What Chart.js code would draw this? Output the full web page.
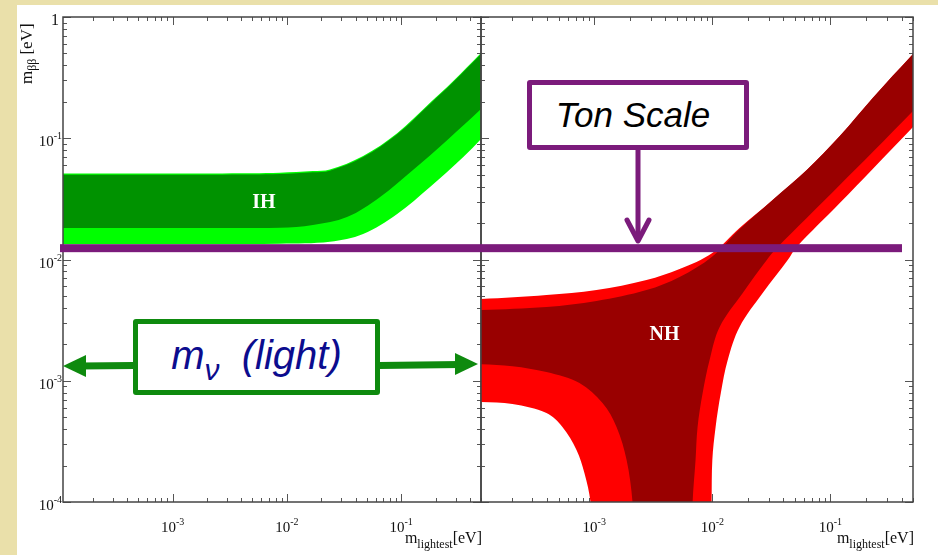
<!DOCTYPE html>
<html>
<head>
<meta charset="utf-8">
<script src="https://cdn.jsdelivr.net/npm/chart.js"></script>
<style>
html,body{margin:0;padding:0;background:#fff;}
#wrap{position:relative;width:938px;height:555px;overflow:hidden;background:#fff;}
.beigeL{position:absolute;left:0;top:0;width:17px;height:555px;background:#eae0aa;}
.beigeT{position:absolute;left:0;top:0;width:938px;height:5px;background:#eae0aa;}
canvas{position:absolute;left:0;top:0;}
svg{position:absolute;left:0;top:0;}
.box{position:absolute;box-sizing:border-box;background:#fff;display:flex;align-items:center;justify-content:center;font-family:"Liberation Sans",Arial,sans-serif;font-style:italic;white-space:nowrap;border-radius:3px;}
#ton{left:527px;top:80px;width:222px;height:70px;border:5px solid #7b1b7b;font-size:35px;color:#000;padding-right:10px;}
#mnu{left:133px;top:319px;width:247px;height:76px;border:5px solid #0e8a0e;font-size:40px;color:#0c0c8e;padding-bottom:4px;}
#mnu sub{font-size:0.75em;vertical-align:-0.35em;line-height:0;}
</style>
</head>
<body>
<div id="wrap">
  <div class="beigeL"></div>
  <div class="beigeT"></div>
  <canvas id="cL" width="938" height="555"></canvas>
  <canvas id="cR" width="938" height="555"></canvas>
  <svg width="938" height="555">
    <line x1="638" y1="150" x2="638" y2="239" stroke="#7b1b7b" stroke-width="5"/>
    <polyline points="627,220 638,241 649,220" fill="none" stroke="#7b1b7b" stroke-width="5" stroke-linecap="round" stroke-linejoin="round"/>
    <line x1="80" y1="366" x2="134" y2="365.5" stroke="#0e8a0e" stroke-width="7"/>
    <polygon points="63,366 86,355 86,377" fill="#0e8a0e"/>
    <line x1="379" y1="365.5" x2="460" y2="364.5" stroke="#0e8a0e" stroke-width="7"/>
    <polygon points="478,364 455,353 455,375" fill="#0e8a0e"/>
  </svg>
  <div id="ton" class="box"><span>Ton Scale</span></div>
  <div id="mnu" class="box"><span>m<sub>ν</sub>&nbsp;&nbsp;(light)</span></div>
</div>
<script>
// ---------- axis ranges and tick labels ----------
const X_MIN = 1.1e-4, X_MAX = 0.5;
const Y_MIN = 1e-4, Y_MAX = 1;
const X_TICK_EXPONENTS = [-3, -2, -1];
const Y_TICK_EXPONENTS = [0, -1, -2, -3, -4];
const TON_SCALE = 0.0124;

// ---------- IH band (inverted hierarchy) ----------
const IH_OUTER_TOP_X = [9e-5, 1.1e-4, 1e-3, 5e-3, 8.7e-3, 0.0169, 0.0238, 0.0465, 0.0923, 0.179, 0.286, 0.5, 0.62];
const IH_OUTER_TOP_Y = [0.0512, 0.0512, 0.0512, 0.0514, 0.0519, 0.0536, 0.0552, 0.0714, 0.110, 0.196, 0.297, 0.505, 0.625];
const IH_OUTER_BOT_X = [9e-5, 1.1e-4, 1e-3, 8.7e-3, 0.0238, 0.0465, 0.0923, 0.179, 0.35, 0.5, 0.62];
const IH_OUTER_BOT_Y = [0.0134, 0.0134, 0.0134, 0.0135, 0.0140, 0.0162, 0.0237, 0.0396, 0.070, 0.0986, 0.122];
const IH_INNER_TOP_X = [9e-5, 1.1e-4, 1e-3, 5e-3, 8.7e-3, 0.0169, 0.0238, 0.0465, 0.0923, 0.179, 0.286, 0.5, 0.62];
const IH_INNER_TOP_Y = [0.0500, 0.0500, 0.0500, 0.0502, 0.0507, 0.0524, 0.0540, 0.070, 0.108, 0.192, 0.291, 0.495, 0.615];
const IH_INNER_BOT_X = [9e-5, 1.1e-4, 1e-3, 8.7e-3, 0.0169, 0.0336, 0.0655, 0.127, 0.254, 0.5, 0.62];
const IH_INNER_BOT_Y = [0.0182, 0.0182, 0.0182, 0.0183, 0.0193, 0.0224, 0.0328, 0.0547, 0.0968, 0.174, 0.215];

// ---------- NH band (normal hierarchy) ----------
const NH_OUTER_TOP_X = [9e-5, 1.1e-4, 3.94e-4, 1.045e-3, 2.77e-3, 5.28e-3, 1.0e-2, 1.70e-2, 3.24e-2, 6.3e-2, 0.12, 0.228, 0.5, 0.62];
const NH_OUTER_TOP_Y = [0.00470, 0.00472, 0.00510, 0.00560, 0.00678, 0.00835, 0.01132, 0.0182, 0.0310, 0.0547, 0.1044, 0.215, 0.495, 0.615];
const NH_OUTER_BOT_X = [9e-5, 1.1e-4, 2.03e-4, 3.94e-4, 5.38e-4, 7.08e-4, 8.27e-4, 9.3e-4, 9.8e-4, 9.7e-3, 9.86e-3, 1.0e-2, 1.066e-2, 1.18e-2, 1.35e-2, 1.70e-2, 2.67e-2, 4.35e-2, 5.18e-2, 0.12, 0.228, 0.5, 0.62];
const NH_OUTER_BOT_Y = [0.000670, 0.000668, 0.000643, 0.000542, 0.000416, 0.000269, 0.000173, 0.0001, 0.00004, 0.00004, 0.0001, 0.000222, 0.000416, 0.000792, 0.00148, 0.00278, 0.0053, 0.00991, 0.01268, 0.0292, 0.0558, 0.124, 0.154];
const NH_INNER_TOP_X = [9e-5, 1.1e-4, 3.94e-4, 1.045e-3, 2.77e-3, 5.28e-3, 1.0e-2, 1.70e-2, 3.24e-2, 6.3e-2, 0.12, 0.228, 0.5, 0.62];
const NH_INNER_TOP_Y = [0.00382, 0.00383, 0.00406, 0.00455, 0.00560, 0.00718, 0.0106, 0.0178, 0.0310, 0.0547, 0.1044, 0.215, 0.495, 0.615];
const NH_INNER_BOT_X = [9e-5, 1.1e-4, 2.03e-4, 3.94e-4, 7.5e-4, 1.175e-3, 1.545e-3, 1.88e-3, 2.11e-3, 2.2e-3, 6.7e-3, 6.81e-3, 7.21e-3, 7.5e-3, 8.28e-3, 9.48e-3, 1.153e-2, 1.81e-2, 2.89e-2, 3.51e-2, 6.3e-2, 0.12, 0.228, 0.5, 0.62];
const NH_INNER_BOT_Y = [0.00137, 0.00137, 0.00132, 0.00118, 0.000958, 0.000655, 0.000416, 0.000222, 0.0001, 0.00004, 0.00004, 0.0001, 0.000222, 0.000416, 0.000792, 0.00148, 0.00278, 0.0053, 0.00991, 0.01244, 0.0220, 0.0412, 0.077, 0.168, 0.208];

// label anchors (data coordinates)
const IH_LABEL = {x: 6.3e-3, y: 0.0292, text: 'IH'};
const NH_LABEL = {x: 3.94e-3, y: 0.00238, text: 'NH'};

function polygon(topX, topY, botX, botY) {
  const pts = topX.map((x, i) => ({x: x, y: topY[i]}));
  for (let i = botX.length - 1; i >= 0; i--) pts.push({x: botX[i], y: botY[i]});
  pts.push({x: topX[0], y: topY[0]});
  return pts;
}

function band(pts, color, order) {
  return {data: pts, backgroundColor: color, borderColor: color, borderWidth: 0,
          fill: 'shape', order: order, pointRadius: 0, tension: 0.35};
}

const SERIF = '"Liberation Serif", "Times New Roman", serif';

function drawPow(ctx, exp, x, y, align) {
  ctx.fillStyle = '#111';
  ctx.textBaseline = 'alphabetic';
  ctx.textAlign = 'left';
  if (exp === 0) {
    ctx.font = '16px ' + SERIF;
    const w = ctx.measureText('1').width;
    ctx.fillText('1', align === 'right' ? x - w : x - w / 2, y);
    return;
  }
  const sup = String(exp);
  ctx.font = '15px ' + SERIF;
  const w1 = ctx.measureText('10').width;
  ctx.font = '10px ' + SERIF;
  const w2 = ctx.measureText(sup).width;
  const total = w1 + w2;
  const x0 = align === 'right' ? x - total : x - total / 2;
  ctx.font = '15px ' + SERIF;
  ctx.fillText('10', x0, y);
  ctx.font = '10px ' + SERIF;
  ctx.fillText(sup, x0 + w1, y - 7);
}

function drawXTitle(ctx, right, baseline) {
  ctx.fillStyle = '#111';
  ctx.textAlign = 'left';
  ctx.textBaseline = 'alphabetic';
  ctx.font = '16px ' + SERIF; const wm = ctx.measureText('m').width;
  ctx.font = '12px ' + SERIF; const ws = ctx.measureText('lightest').width;
  ctx.font = '16px ' + SERIF; const we = ctx.measureText('[eV]').width;
  let x = right - (wm + ws + we);
  ctx.font = '16px ' + SERIF; ctx.fillText('m', x, baseline); x += wm;
  ctx.font = '12px ' + SERIF; ctx.fillText('lightest', x, baseline + 5); x += ws;
  ctx.font = '16px ' + SERIF; ctx.fillText('[eV]', x, baseline);
}

function makePlugin(cfg) {
  return {
    id: 'frame_' + cfg.name,
    beforeDatasetsDraw(chart) {
      const {ctx, chartArea: a, scales: {x, y}} = chart;
      ctx.save();
      ctx.strokeStyle = '#555';
      ctx.lineWidth = 1;
      for (let e = -5; e <= 0; e++) {
        for (let m = 1; m <= 9; m++) {
          const v = m * Math.pow(10, e);
          if (v >= X_MIN * 0.999 && v <= X_MAX * 1.001) {
            const px = Math.round(x.getPixelForValue(v)) + 0.5;
            const len = m === 1 ? 8 : 4;
            ctx.beginPath();
            ctx.moveTo(px, a.bottom); ctx.lineTo(px, a.bottom - len);
            ctx.moveTo(px, a.top); ctx.lineTo(px, a.top + len);
            ctx.stroke();
          }
          if (v >= Y_MIN * 0.999 && v <= Y_MAX * 1.001) {
            const py = Math.round(y.getPixelForValue(v)) + 0.5;
            const len = m === 1 ? 8 : 4;
            ctx.beginPath();
            ctx.moveTo(a.left, py); ctx.lineTo(a.left + len, py);
            ctx.moveTo(a.right, py); ctx.lineTo(a.right - len, py);
            ctx.stroke();
          }
        }
      }
      ctx.restore();
    },
    afterDatasetsDraw(chart) {
      const {ctx, chartArea: a, scales: {x, y}} = chart;
      ctx.save();
      ctx.strokeStyle = '#444';
      ctx.lineWidth = 1.5;
      ctx.strokeRect(a.left, a.top, a.right - a.left, a.bottom - a.top);
      X_TICK_EXPONENTS.forEach(e => {
        drawPow(ctx, e, x.getPixelForValue(Math.pow(10, e)), a.bottom + 30, 'center');
      });
      if (cfg.yLabels) {
        Y_TICK_EXPONENTS.forEach(e => {
          drawPow(ctx, e, a.left - (e === 0 ? 4 : 1), y.getPixelForValue(Math.pow(10, e)) + 8, 'right');
        });
        ctx.save();
        ctx.translate(32, 84);
        ctx.rotate(-Math.PI / 2);
        ctx.fillStyle = '#111';
        ctx.textAlign = 'left';
        ctx.font = '17px ' + SERIF; ctx.fillText('m', 0, 0);
        let xx = ctx.measureText('m').width;
        ctx.font = '12px ' + SERIF; ctx.fillText('ββ', xx, 4);
        xx += ctx.measureText('ββ').width + 4;
        ctx.font = '17px ' + SERIF; ctx.fillText('[eV]', xx, 0);
        ctx.restore();
      }
      drawXTitle(ctx, a.right + 1, 543);
      const L = cfg.label;
      ctx.fillStyle = '#fff';
      ctx.font = 'bold 20px ' + SERIF;
      ctx.textAlign = 'center';
      ctx.textBaseline = 'middle';
      ctx.fillText(L.text, x.getPixelForValue(L.x), y.getPixelForValue(L.y));
      if (cfg.tonLine) {
        const py = y.getPixelForValue(TON_SCALE);
        ctx.fillStyle = '#7b1b7b';
        ctx.fillRect(60, py - 4, 902 - 60, 8);
      }
      ctx.restore();
    }
  };
}

function makeChart(id, datasets, padLeft, padRight, cfg) {
  return new Chart(document.getElementById(id), {
    type: 'line',
    data: {datasets: datasets},
    options: {
      responsive: false,
      animation: false,
      devicePixelRatio: 1,
      events: [],
      layout: {padding: {left: padLeft, right: padRight, top: 17, bottom: 53}},
      plugins: {legend: {display: false}, tooltip: {enabled: false}},
      elements: {line: {capBezierPoints: false}},
      scales: {
        x: {type: 'logarithmic', min: X_MIN, max: X_MAX, display: false},
        y: {type: 'logarithmic', min: Y_MIN, max: Y_MAX, display: false}
      }
    },
    plugins: [makePlugin(cfg)]
  });
}

makeChart('cL', [
  band(polygon(IH_INNER_TOP_X, IH_INNER_TOP_Y, IH_INNER_BOT_X, IH_INNER_BOT_Y), '#009200', 1),
  band(polygon(IH_OUTER_TOP_X, IH_OUTER_TOP_Y, IH_OUTER_BOT_X, IH_OUTER_BOT_Y), '#00ff00', 2)
], 63, 938 - 481, {name: 'L', yLabels: true, label: IH_LABEL, tonLine: false});

makeChart('cR', [
  band(polygon(NH_INNER_TOP_X, NH_INNER_TOP_Y, NH_INNER_BOT_X, NH_INNER_BOT_Y), '#990000', 1),
  band(polygon(NH_OUTER_TOP_X, NH_OUTER_TOP_Y, NH_OUTER_BOT_X, NH_OUTER_BOT_Y), '#ff0000', 2)
], 481, 25, {name: 'R', yLabels: false, label: NH_LABEL, tonLine: true});
</script>
</body>
</html>
